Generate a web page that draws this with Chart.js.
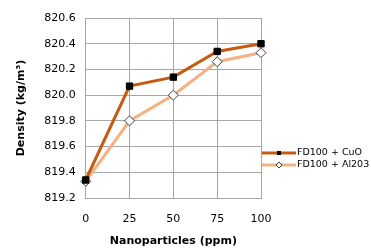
<!DOCTYPE html>
<html>
<head>
<meta charset="utf-8">
<script src="https://cdn.jsdelivr.net/npm/chart.js@4"></script>
<style>
  html, body { margin: 0; padding: 0; background: #fff; }
  #box { width: 371px; height: 251px; }
</style>
</head>
<body>
<div id="box"><canvas id="densityChart"></canvas></div>
<script>
const ppm = ['0', '25', '50', '75', '100'];
const cuoDensity = [819.34, 820.07, 820.14, 820.34, 820.40];
const aloDensity = [819.33, 819.80, 820.00, 820.26, 820.33];
const seriesNames = ['FD100 + CuO', 'FD100 + Al203'];

const FONT = 'DejaVu Sans, Verdana, sans-serif';

// legend drawn by hand: line with a marker in the middle, like the original
const sideLegend = {
    id: 'sideLegend',
    afterDraw(chart) {
        const ctx = chart.ctx;
        const x0 = chart.chartArea.right + 1;
        let y = 153;
        chart.data.datasets.forEach(ds => {
            ctx.save();
            ctx.strokeStyle = ds.borderColor;
            ctx.lineWidth = 3;
            ctx.beginPath();
            ctx.moveTo(x0, y);
            ctx.lineTo(x0 + 34, y);
            ctx.stroke();
            ctx.fillStyle = ds.pointBackgroundColor;
            ctx.strokeStyle = ds.pointBorderColor;
            ctx.lineWidth = 1;
            if (ds.pointStyle === 'rect') {
                ctx.fillRect(x0 + 15, y - 2, 4, 4);
            } else {
                ctx.beginPath();
                ctx.moveTo(x0 + 17, y - 3);
                ctx.lineTo(x0 + 20, y);
                ctx.lineTo(x0 + 17, y + 3);
                ctx.lineTo(x0 + 14, y);
                ctx.closePath();
                ctx.fill();
                ctx.stroke();
            }
            ctx.fillStyle = '#000';
            ctx.font = '9.5px ' + FONT;
            ctx.textBaseline = 'middle';
            ctx.fillText(ds.label, x0 + 35, y);
            ctx.restore();
            y += 12;
        });
    }
};

const data = {
    labels: ppm,
    datasets: [
        {
            label: seriesNames[0],
            data: cuoDensity,
            borderColor: '#C55A11',
            borderWidth: 3,
            pointStyle: 'rect',
            pointRadius: 4.5,
            pointBackgroundColor: '#000',
            pointBorderColor: '#000',
            pointBorderWidth: 1,
        },
        {
            label: seriesNames[1],
            data: aloDensity,
            borderColor: '#F4B183',
            borderWidth: 3,
            pointStyle: 'rectRot',
            pointRadius: 5,
            pointBackgroundColor: '#fff',
            pointBorderColor: '#404040',
            pointBorderWidth: 1,
        },
    ],
};

const config = {
    type: 'line',
    data: data,
    plugins: [sideLegend],
    options: {
        responsive: true,
        maintainAspectRatio: false,
        animation: false,
        layout: { padding: { left: 11, right: 110, top: 18, bottom: 0 } },
        plugins: {
            legend: { display: false },
            tooltip: { enabled: false },
        },
        scales: {
            x: {
                offset: false,
                grid: { color: '#A6A6A6', drawTicks: false },
                border: { color: '#A6A6A6' },
                ticks: { color: '#000', font: { family: FONT, size: 11, lineHeight: 1 }, padding: 16, maxRotation: 0 },
                title: { display: true, text: 'Nanoparticles (ppm)', color: '#000', font: { family: FONT, size: 11, weight: 'bold', lineHeight: 1 }, padding: { top: 4, bottom: 4 } },
                afterFit: scale => { scale.height = 53; },
            },
            y: {
                min: 819.2,
                max: 820.6,
                grid: { color: '#A6A6A6', drawTicks: false },
                border: { color: '#A6A6A6' },
                ticks: {
                    stepSize: 0.2,
                    color: '#000',
                    font: { family: FONT, size: 11 },
                    padding: 10,
                    callback: v => v.toFixed(1),
                },
                title: { display: true, text: 'Density (kg/m³)', color: '#000', font: { family: FONT, size: 11, weight: 'bold' }, padding: { bottom: 6 } },
            },
        },
    },
};

var ctx = document.getElementById('densityChart').getContext('2d');
var densityChart = new Chart(ctx, config);
</script>
</body>
</html>
